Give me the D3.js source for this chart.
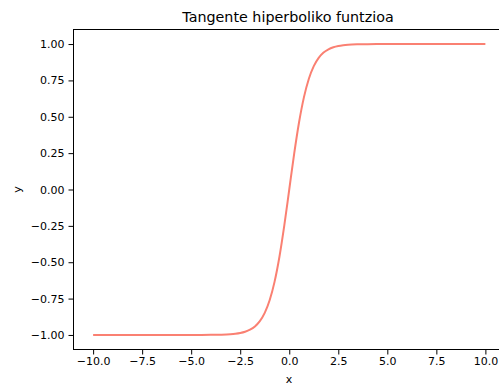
<!DOCTYPE html>
<html>
<head>
<meta charset="utf-8">
<script src="https://cdn.jsdelivr.net/npm/d3@7"></script>
<style>
  html, body { margin: 0; padding: 0; background: #fff; }
  svg { display: block; }
  text { font-family: "DejaVu Sans", sans-serif; fill: #000; }
</style>
</head>
<body>
<svg id="chart" width="499" height="385"></svg>
<script>
// Sampled points of the hyperbolic tangent curve
const xValues = [-10, -8, -6, -5, -4.5, -4, -3.5, -3, -2.75, -2.5, -2.25, -2, -1.75, -1.5, -1.25, -1, -0.75, -0.5, -0.25,
                 0, 0.25, 0.5, 0.75, 1, 1.25, 1.5, 1.75, 2, 2.25, 2.5, 2.75, 3, 3.5, 4, 4.5, 5, 6, 8, 10];
const yValues = [-1.0, -1.0, -1.0, -0.9999, -0.9998, -0.9993, -0.9982, -0.9951, -0.9918, -0.9866, -0.9780, -0.9640, -0.9414, -0.9051, -0.8483, -0.7616, -0.6351, -0.4621, -0.2449,
                 0, 0.2449, 0.4621, 0.6351, 0.7616, 0.8483, 0.9051, 0.9414, 0.9640, 0.9780, 0.9866, 0.9918, 0.9951, 0.9982, 0.9993, 0.9998, 0.9999, 1.0, 1.0, 1.0];
const xTicks = [-10, -7.5, -5, -2.5, 0, 2.5, 5, 7.5, 10];
const yTicks = [-1.0, -0.75, -0.5, -0.25, 0, 0.25, 0.5, 0.75, 1.0];
const title = "Tangente hiperboliko funtzioa";

const svg = d3.select("#chart");
const plotLeft = 73.5, plotRight = 505, plotTop = 29.5, plotBottom = 349.5;

const x = d3.scaleLinear().domain([-11, 11]).range([plotLeft, plotRight]);
const y = d3.scaleLinear().domain([-1.1, 1.1]).range([plotBottom, plotTop]);

const minus = v => (v < 0 ? "\u2212" : "");

// X axis
const xAxis = d3.axisBottom(x).tickValues(xTicks).tickSize(5).tickPadding(3)
  .tickFormat(v => minus(v) + Math.abs(v).toFixed(1));
const gx = svg.append("g").attr("transform", `translate(0,${plotBottom})`).call(xAxis);
// Y axis
const yAxis = d3.axisLeft(y).tickValues(yTicks).tickSize(5).tickPadding(4)
  .tickFormat(v => minus(v) + Math.abs(v).toFixed(2));
const gy = svg.append("g").attr("transform", `translate(${plotLeft},0)`).call(yAxis);

[gx, gy].forEach(g => {
  g.select(".domain").remove();
  g.selectAll(".tick line").attr("stroke", "#000").attr("stroke-width", 1);
  g.selectAll(".tick text").attr("font-size", 11).attr("font-family", "DejaVu Sans").attr("fill", "#000");
});

// Curve
const line = d3.line().x((d, i) => x(xValues[i])).y(d => y(d)).curve(d3.curveMonotoneX);
svg.append("path").datum(yValues)
  .attr("d", line)
  .attr("fill", "none")
  .attr("stroke", "#fa8072")
  .attr("stroke-width", 2);

// Frame
svg.append("rect")
  .attr("x", plotLeft).attr("y", plotTop)
  .attr("width", plotRight - plotLeft).attr("height", plotBottom - plotTop)
  .attr("fill", "none").attr("stroke", "#000").attr("stroke-width", 1);

// Title and axis labels
svg.append("text").attr("x", 288).attr("y", 22)
  .attr("text-anchor", "middle").attr("font-size", 14.3).text(title);
svg.append("text").attr("x", 289).attr("y", 383)
  .attr("text-anchor", "middle").attr("font-size", 11).text("x");
svg.append("text").attr("transform", `translate(21,${(plotTop + plotBottom) / 2}) rotate(-90)`)
  .attr("text-anchor", "middle").attr("font-size", 11).text("y");
</script>
</body>
</html>
